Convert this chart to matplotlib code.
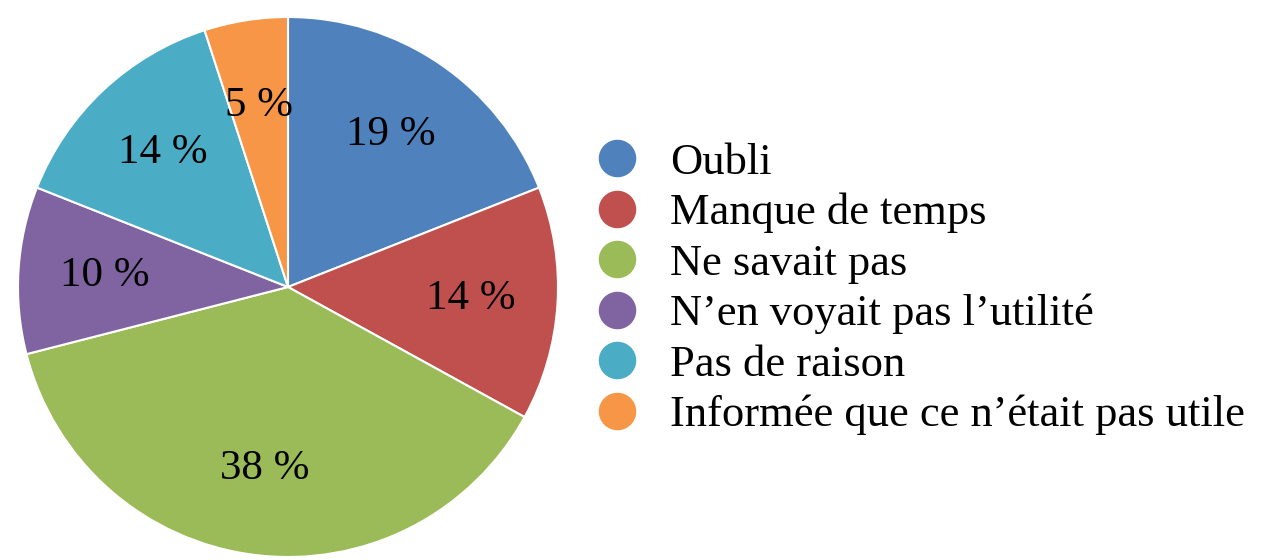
import matplotlib.pyplot as plt
from matplotlib.lines import Line2D

plt.rcParams['font.family'] = ['Liberation Serif', 'DejaVu Serif']

labels = ['Oubli', 'Manque de temps', 'Ne savait pas',
          "N\u2019en voyait pas l\u2019utilit\u00e9", 'Pas de raison',
          "Inform\u00e9e que ce n\u2019\u00e9tait pas utile"]
values = [19, 14, 38, 10, 14, 5]
colors = ['#4F81BD', '#C0504D', '#9BBB59', '#8064A2', '#4BACC6', '#F79646']

W, H = 1261, 560
fig = plt.figure(figsize=(W / 100, H / 100), dpi=100)

# pie centre ~ (288, 287), radius ~ 270 px
cx, cy, r = 288, 287, 270
ax = fig.add_axes([(cx - r) / W, (H - cy - r) / H, 2 * r / W, 2 * r / H])
wedges, texts, autotexts = ax.pie(values, colors=colors, startangle=90, counterclock=False,
                                  autopct=lambda p: '%d %%' % round(p), pctdistance=0.68,
                                  wedgeprops=dict(edgecolor='white', linewidth=1.5),
                                  textprops=dict(fontsize=31, color='black'))
ax.set_aspect('equal')
ax.set_xlim(-1, 1)
ax.set_ylim(-1, 1)

handles = [Line2D([], [], marker='o', linestyle='', markersize=26,
                  markerfacecolor=c, markeredgecolor=c) for c in colors]
fig.legend(handles, labels, loc='center left', bbox_to_anchor=(590 / W, 1 - 289 / H),
           frameon=False, fontsize=32, labelspacing=0.23, handletextpad=0.6,
           handlelength=1.2, borderpad=0, borderaxespad=0)

fig.savefig('out.png', dpi=100)
